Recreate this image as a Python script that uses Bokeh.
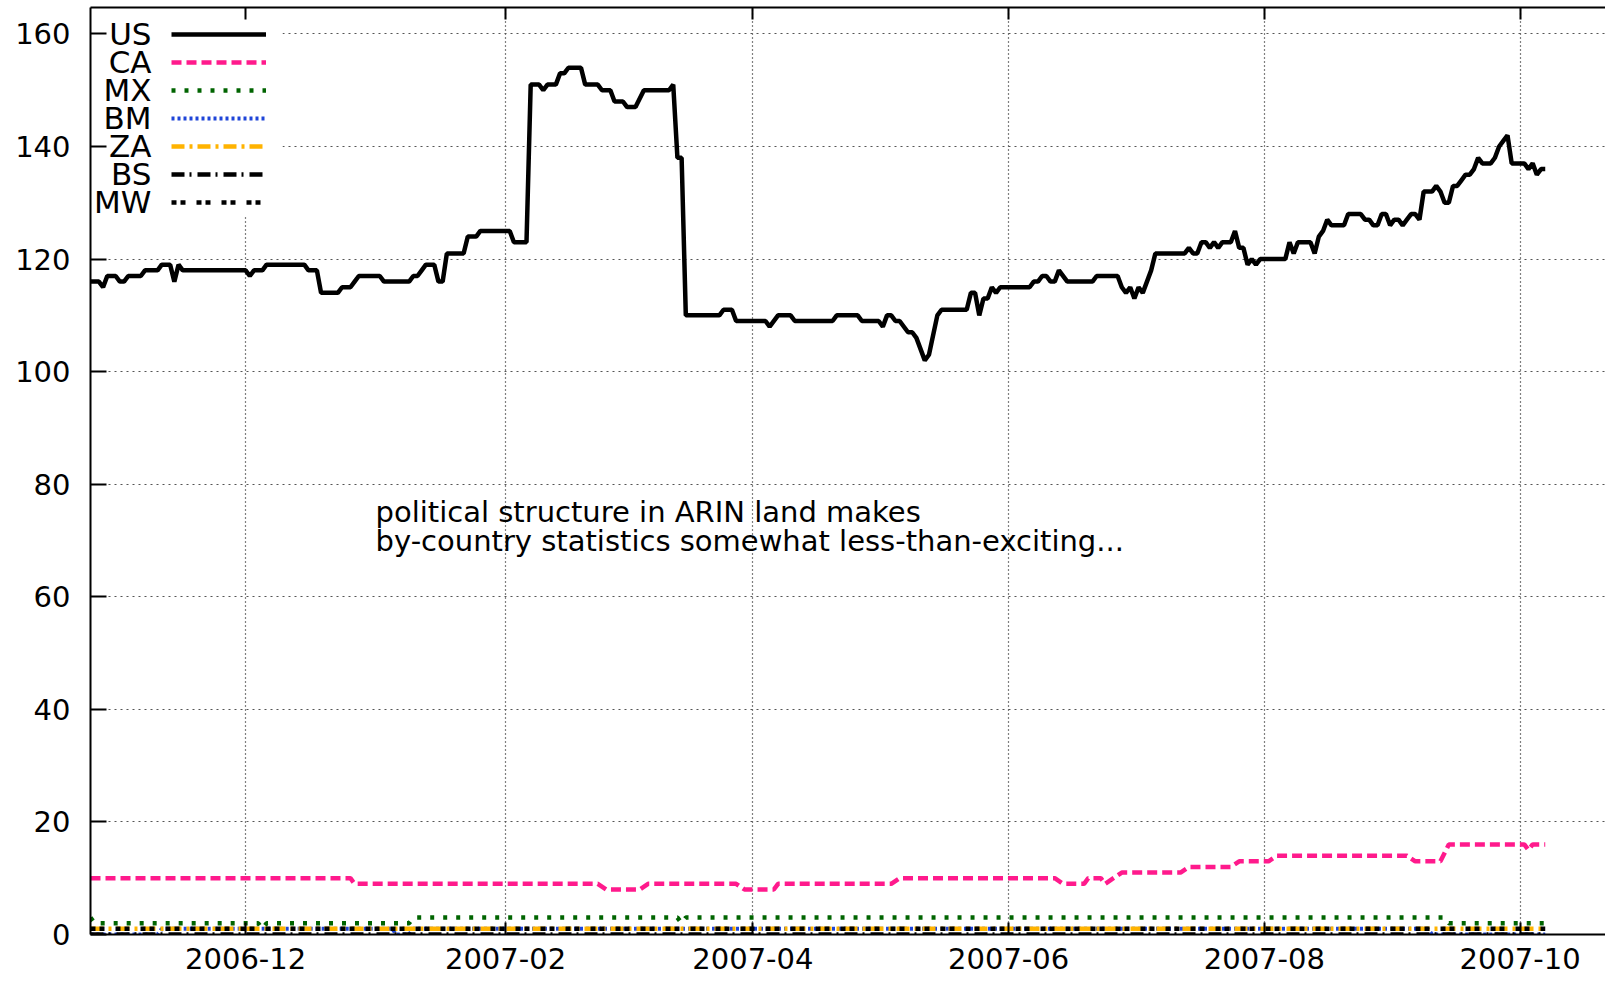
import pandas as pd
from bokeh.embed import file_html
from bokeh.models import (BoxAnnotation, ColumnDataSource, CustomJSTickFormatter,
                          DatetimeAxis, DatetimeTickFormatter, FixedTicker, Label,
                          Legend, LegendItem, Range1d)
from bokeh.plotting import figure
from bokeh.resources import INLINE

FONT = "DejaVu Sans"

# ---------------------------------------------------------------- data
x_tick_labels = ["2006-12", "2007-02", "2007-04", "2007-06", "2007-08", "2007-10"]
y_ticks = [0, 20, 40, 60, 80, 100, 120, 140, 160]

us_dates = [
    "2006-10-25", "2006-10-27", "2006-10-28", "2006-10-29", "2006-10-31",
    "2006-11-01", "2006-11-02", "2006-11-03", "2006-11-06", "2006-11-07", "2006-11-10",
    "2006-11-11", "2006-11-13", "2006-11-14", "2006-11-15", "2006-11-16",
    "2006-12-01", "2006-12-02", "2006-12-03", "2006-12-05", "2006-12-06", "2006-12-15",
    "2006-12-16", "2006-12-18", "2006-12-19", "2006-12-23", "2006-12-24", "2006-12-26",
    "2006-12-27", "2006-12-28",
    "2007-01-02", "2007-01-03", "2007-01-09", "2007-01-10", "2007-01-11", "2007-01-12",
    "2007-01-13", "2007-01-15", "2007-01-16", "2007-01-17", "2007-01-18", "2007-01-22",
    "2007-01-23", "2007-01-25", "2007-01-26",
    "2007-02-02", "2007-02-03", "2007-02-06", "2007-02-07", "2007-02-09", "2007-02-10",
    "2007-02-11", "2007-02-13", "2007-02-14", "2007-02-15", "2007-02-16", "2007-02-19",
    "2007-02-20", "2007-02-23", "2007-02-24", "2007-02-26", "2007-02-27",
    "2007-03-01", "2007-03-02", "2007-03-04", "2007-03-06", "2007-03-12", "2007-03-13",
    "2007-03-14", "2007-03-15", "2007-03-16", "2007-03-24", "2007-03-25", "2007-03-27",
    "2007-03-28",
    "2007-04-04", "2007-04-05", "2007-04-07", "2007-04-10", "2007-04-11", "2007-04-20",
    "2007-04-21", "2007-04-26", "2007-04-27",
    "2007-05-01", "2007-05-02", "2007-05-03", "2007-05-04", "2007-05-05", "2007-05-06",
    "2007-05-08", "2007-05-09", "2007-05-10", "2007-05-12", "2007-05-13", "2007-05-15",
    "2007-05-16", "2007-05-22", "2007-05-23", "2007-05-24", "2007-05-25", "2007-05-26",
    "2007-05-27", "2007-05-28", "2007-05-29", "2007-05-30",
    "2007-06-06", "2007-06-07", "2007-06-08", "2007-06-09", "2007-06-10", "2007-06-11",
    "2007-06-12", "2007-06-13", "2007-06-15", "2007-06-21", "2007-06-22", "2007-06-27",
    "2007-06-28", "2007-06-29", "2007-06-30",
    "2007-07-01", "2007-07-02", "2007-07-03", "2007-07-05", "2007-07-06", "2007-07-13",
    "2007-07-14", "2007-07-15", "2007-07-16", "2007-07-17", "2007-07-18", "2007-07-19",
    "2007-07-20", "2007-07-21", "2007-07-22", "2007-07-24", "2007-07-25", "2007-07-26",
    "2007-07-27", "2007-07-28", "2007-07-29", "2007-07-30", "2007-07-31",
    "2007-08-06", "2007-08-07", "2007-08-08", "2007-08-09", "2007-08-12", "2007-08-13",
    "2007-08-14", "2007-08-15", "2007-08-16", "2007-08-17", "2007-08-20", "2007-08-21",
    "2007-08-24", "2007-08-25", "2007-08-26", "2007-08-27", "2007-08-28", "2007-08-29",
    "2007-08-30", "2007-08-31",
    "2007-09-01", "2007-09-02", "2007-09-03", "2007-09-04", "2007-09-05", "2007-09-06",
    "2007-09-07", "2007-09-08", "2007-09-10", "2007-09-11", "2007-09-12", "2007-09-13",
    "2007-09-14", "2007-09-15", "2007-09-16", "2007-09-17", "2007-09-18", "2007-09-19",
    "2007-09-20", "2007-09-21", "2007-09-22", "2007-09-24", "2007-09-25", "2007-09-26",
    "2007-09-27", "2007-09-28", "2007-09-29",
    "2007-10-02", "2007-10-03", "2007-10-04", "2007-10-05", "2007-10-06", "2007-10-07",
]
us_values = [
    116, 116, 115, 117, 117,
    116, 116, 117, 117, 118, 118, 119, 119, 116, 119, 118,
    118, 117, 118, 118, 119, 119, 118, 118, 114, 114, 115, 115, 116, 117,
    117, 116, 116, 117, 117, 118, 119, 119, 116, 116, 121, 121, 124, 124, 125,
    125, 123, 123, 151, 151, 150, 151, 151, 153, 153, 154, 154, 151, 151, 150, 150, 148,
    148, 147, 147, 150, 150, 151, 138, 138, 110, 110, 111, 111, 109,
    109, 108, 110, 110, 109, 109, 110, 110, 109,
    109, 108, 110, 110, 109, 109, 107, 107, 106, 102, 103, 110, 111, 111, 114, 114,
    110, 113, 113, 115, 114, 115,
    115, 116, 116, 117, 117, 116, 116, 118, 116, 116, 117, 117, 115, 114, 115,
    113, 115, 114, 118, 121, 121, 122, 121, 121, 123, 123, 122, 123, 122, 123, 123,
    125, 122, 122, 119, 120, 119, 120,
    120, 123, 121, 123, 123, 121, 124, 125, 127, 126, 126, 128, 128, 127, 127, 126,
    126, 128, 128, 126,
    127, 127, 126, 127, 128, 128, 127, 132, 132, 133, 132, 130, 130, 133, 133, 134,
    135, 135, 136, 138, 137, 137, 138, 140, 141, 142, 137,
    137, 136, 137, 135, 136, 136,
]

ca_dates = [
    "2006-10-25", "2006-12-26", "2006-12-27", "2007-02-23", "2007-02-25", "2007-03-05",
    "2007-03-07", "2007-03-28", "2007-03-30", "2007-04-06", "2007-04-07", "2007-05-04",
    "2007-05-06", "2007-06-12", "2007-06-14", "2007-06-19", "2007-06-20", "2007-06-23",
    "2007-06-24", "2007-06-26", "2007-06-28", "2007-07-12", "2007-07-14", "2007-07-24",
    "2007-07-26", "2007-08-02", "2007-08-04", "2007-09-04", "2007-09-06", "2007-09-12",
    "2007-09-14", "2007-10-02", "2007-10-03", "2007-10-04", "2007-10-07",
]
ca_values = [
    10, 10, 9, 9, 8, 8, 9, 9, 8, 8, 9, 9, 10, 10, 9, 9, 10, 10, 9, 10, 11, 11,
    12, 12, 13, 13, 14, 14, 13, 13, 16, 16, 15, 16, 16,
]

mx_dates = [
    "2006-10-25", "2006-10-26", "2006-12-04", "2006-12-05", "2006-12-06", "2007-01-09",
    "2007-01-10", "2007-03-14", "2007-03-15", "2007-03-16", "2007-09-13", "2007-09-14",
    "2007-10-07",
]
mx_values = [3, 2, 2, 1, 2, 2, 3, 3, 2, 3, 3, 2, 2]

bm_dates = [
    "2006-10-25", "2006-11-10", "2006-11-11", "2007-01-05", "2007-01-06", "2007-01-09",
    "2007-01-10", "2007-09-09", "2007-09-10", "2007-10-07",
]
bm_values = [0, 0, 1, 1, 0, 0, 1, 1, 0, 0]

za_dates = ["2006-10-25", "2007-10-07"]
za_values = [1, 1]

bs_dates = ["2006-10-25", "2007-10-07"]
bs_values = [0, 0]

mw_dates = ["2006-10-25", "2007-10-07"]
mw_values = [1, 1]

note_lines = [
    "political structure in ARIN land makes",
    "by-country statistics somewhat less-than-exciting...",
]

# (name, dates, values, colour, dash, width)
series = [
    ("US", us_dates, us_values, "black", "solid", 4.5),
    ("CA", ca_dates, ca_values, "#ff1a8c", "10 5", 4.5),
    ("MX", mx_dates, mx_values, "#006400", "4 9", 4.5),
    ("BM", bm_dates, bm_values, "#1f45d8", "3 3", 4),
    ("ZA", za_dates, za_values, "#ffb300", "13 5 3 5", 4.5),
    ("BS", bs_dates, bs_values, "black", "13 5 2 6", 4.5),
    ("MW", mw_dates, mw_values, "black", "5 4 5 11", 4.5),
]
for _, d, v, *_rest in series:
    assert len(d) == len(v)


def ms(stamp):
    return pd.Timestamp(stamp).value / 1e6


# ---------------------------------------------------------------- figure
p = figure(
    width=1605, height=981,
    x_axis_type="datetime",
    x_range=Range1d(ms("2006-10-25"), ms("2007-10-21 09:00")),
    y_range=Range1d(0, 164.7),
    output_backend="svg", toolbar_location=None,
    min_border_left=90, min_border_right=0, min_border_top=7, min_border_bottom=47,
    background_fill_color="white", border_fill_color="white",
)
p.outline_line_color = None

x_ticker = FixedTicker(ticks=[ms(t + "-01") for t in x_tick_labels])
y_ticker = FixedTicker(ticks=y_ticks)
x_fmt = DatetimeTickFormatter(days="%Y-%m", months="%Y-%m", years="%Y-%m")

xa = p.xaxis[0]
xa.ticker = x_ticker
xa.formatter = x_fmt
ya = p.yaxis[0]
ya.ticker = y_ticker

for ax, tick_len in ((xa, 12), (ya, 16)):
    ax.axis_line_width = 2
    ax.axis_line_color = "black"
    ax.major_tick_in = tick_len
    ax.major_tick_out = 0
    ax.major_tick_line_width = 2
    ax.minor_tick_in = 0
    ax.minor_tick_out = 0
    ax.major_label_text_font = FONT
    ax.major_label_text_font_size = "29px"
    ax.major_label_text_color = "black"
xa.major_label_standoff = 13
ya.major_label_standoff = 20

# frame top edge with mirrored month ticks
top = DatetimeAxis(
    ticker=x_ticker, formatter=CustomJSTickFormatter(code="return ''"),
    axis_line_width=2, major_tick_in=12, major_tick_out=0, major_tick_line_width=2,
    minor_tick_in=0, minor_tick_out=0, major_label_standoff=0,
    major_label_text_font_size="1px",
)
p.add_layout(top, "above")

p.xgrid.ticker = x_ticker
p.xgrid.grid_line_color = "black"
p.xgrid.grid_line_dash = "1 3"
p.xgrid.grid_line_width = 1.2
p.ygrid.ticker = y_ticker
p.ygrid.grid_line_color = "#555555"
p.ygrid.grid_line_dash = "2 4"
p.ygrid.grid_line_width = 1.2

# opaque key area
p.add_layout(BoxAnnotation(
    left=0, right=192, top=927, bottom=718,
    left_units="screen", right_units="screen", top_units="screen", bottom_units="screen",
    fill_color="white", fill_alpha=1, line_color=None, level="underlay",
))

# ---------------------------------------------------------------- series
items = []
for name, dates, vals, color, dash, width in series:
    src = ColumnDataSource(dict(date=pd.to_datetime(dates), value=vals))
    r = p.line("date", "value", source=src, line_color=color, line_dash=dash,
               line_width=width)
    items.append(LegendItem(label="", renderers=[r]))

ROW = 28
legend = Legend(
    items=items, location=(81, 927 - 26.5 + ROW / 2 - ROW * len(items)),
    orientation="vertical", glyph_width=95, glyph_height=ROW, label_height=ROW,
    label_width=0, label_standoff=0, padding=0, spacing=0, margin=0,
    border_line_color=None, background_fill_alpha=0, label_text_font_size="8px",
)
p.add_layout(legend)

for i, (name, *_rest) in enumerate(series):
    p.add_layout(Label(
        x=61, y=927 - 26.5 - ROW * i, x_units="screen", y_units="screen",
        text=name, text_align="right", text_baseline="middle",
        text_font=FONT, text_font_size="31px", text_color="black",
    ))

# note
for i, line in enumerate(note_lines):
    p.add_layout(Label(
        x=ms("2007-01-01"), y=75, y_offset=-28.4 * i, text=line,
        text_align="left", text_baseline="middle",
        text_font=FONT, text_font_size="29px", text_color="black",
    ))

open("out.html", "w").write(file_html(p, INLINE))
